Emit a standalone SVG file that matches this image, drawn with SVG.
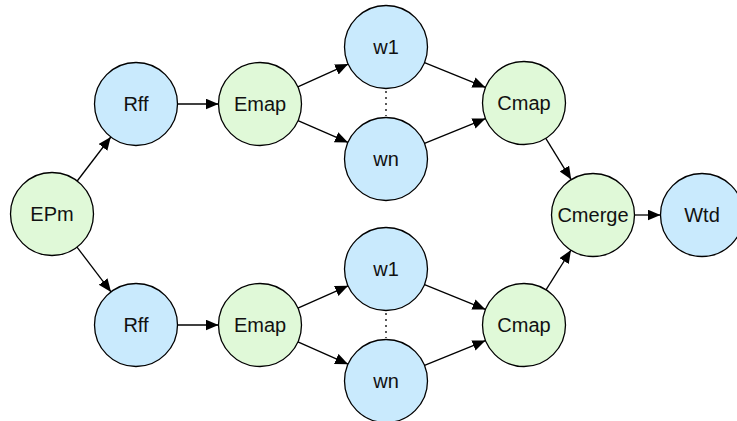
<svg xmlns="http://www.w3.org/2000/svg" width="737" height="421" viewBox="0 0 737 421">
<defs>
<style>
.blue{fill:#c9eafd;stroke:#000;stroke-width:1.3}
.green{fill:#e0f9d8;stroke:#000;stroke-width:1.3}
text{font-family:"Liberation Sans",Arial,sans-serif;font-size:20px;fill:#111;text-anchor:middle}
.e{stroke:#000;stroke-width:1.3;fill:none;marker-end:url(#ah)}
.dot{stroke:#000;stroke-width:1.3;stroke-dasharray:2 4;fill:none}
</style>
<marker id="ah" markerUnits="userSpaceOnUse" markerWidth="14" markerHeight="12" refX="13" refY="5.5" orient="auto">
<path d="M0,0 L13,5.5 L0,11 Z" fill="#000"/>
</marker>
</defs>
<rect width="737" height="421" fill="#fff"/>
<g id="connectors">
<line class="e" x1="77.2" y1="181" x2="110.8" y2="137"/>
<line class="e" x1="177.5" y1="104" x2="218.5" y2="104"/>
<line class="e" x1="297.8" y1="86.9" x2="348.2" y2="64.1"/>
<line class="e" x1="298" y1="120.6" x2="348" y2="142.4"/>
<line class="e" x1="424.5" y1="62.6" x2="485.5" y2="87.4"/>
<line class="e" x1="424.5" y1="143.4" x2="485.5" y2="118.6"/>
<line class="e" x1="545.8" y1="138.4" x2="571.2" y2="179.6"/>
<line class="dot" x1="386" y1="91" x2="386" y2="116"/>
<line class="e" x1="77" y1="247.1" x2="111" y2="291.9"/>
<line class="e" x1="177.5" y1="325" x2="218.5" y2="325"/>
<line class="e" x1="297.9" y1="308.2" x2="348.1" y2="285.8"/>
<line class="e" x1="297.9" y1="341.8" x2="348.1" y2="364.2"/>
<line class="e" x1="424.5" y1="284.6" x2="485.5" y2="309.4"/>
<line class="e" x1="424.5" y1="365.4" x2="485.5" y2="340.6"/>
<line class="e" x1="546" y1="289.8" x2="571" y2="250.1"/>
<line class="dot" x1="386" y1="313" x2="386" y2="338"/>
<line class="e" x1="634.5" y1="215" x2="660.5" y2="215"/>
</g>
<g id="EPm"><circle class="green" cx="52" cy="214" r="41.5"/><text x="52" y="221">EPm</text></g>
<g id="Rff1"><circle class="blue" cx="136" cy="104" r="41.5"/><text x="136" y="111">Rff</text></g>
<g id="Emap1"><circle class="green" cx="260" cy="104" r="41.5"/><text x="260" y="111">Emap</text></g>
<g id="w1a"><circle class="blue" cx="386" cy="47" r="41.5"/><text x="386" y="54">w1</text></g>
<g id="wna"><circle class="blue" cx="386" cy="159" r="41.5"/><text x="386" y="166">wn</text></g>
<g id="Cmap1"><circle class="green" cx="524" cy="103" r="41.5"/><text x="524" y="110">Cmap</text></g>
<g id="Rff2"><circle class="blue" cx="136" cy="325" r="41.5"/><text x="136" y="332">Rff</text></g>
<g id="Emap2"><circle class="green" cx="260" cy="325" r="41.5"/><text x="260" y="332">Emap</text></g>
<g id="w1b"><circle class="blue" cx="386" cy="269" r="41.5"/><text x="386" y="276">w1</text></g>
<g id="wnb"><circle class="blue" cx="386" cy="381" r="41.5"/><text x="386" y="388">wn</text></g>
<g id="Cmap2"><circle class="green" cx="524" cy="325" r="41.5"/><text x="524" y="332">Cmap</text></g>
<g id="Cmerge"><circle class="green" cx="593" cy="215" r="41.5"/><text x="593" y="222">Cmerge</text></g>
<g id="Wtd"><circle class="blue" cx="702" cy="215" r="41.5"/><text x="702" y="222">Wtd</text></g>
</svg>
